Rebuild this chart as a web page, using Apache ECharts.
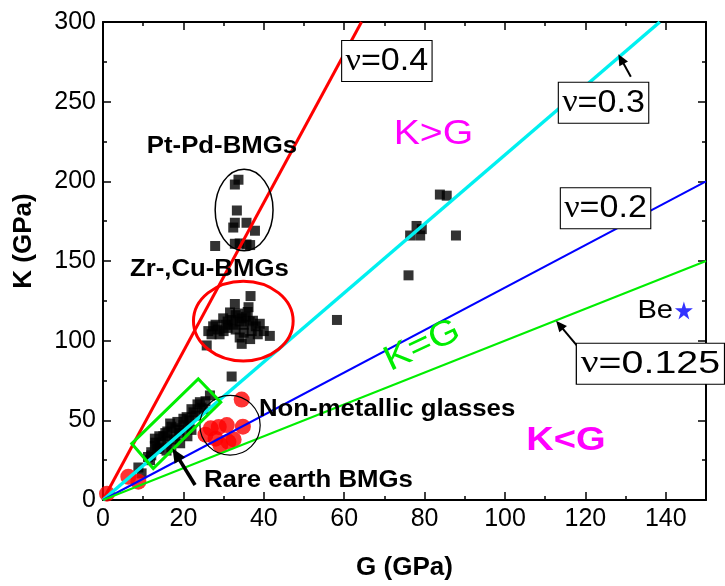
<!DOCTYPE html>
<html><head><meta charset="utf-8">
<script src="https://cdn.jsdelivr.net/npm/echarts@6/dist/echarts.min.js"></script>
<style>html,body{margin:0;padding:0;background:#fff}#c{width:725px;height:586px}</style>
</head><body><div id="c"></div>
<script>
// ---- data (G, K) in GPa ----
const ptPdBMGs = [[33.7,201],[32.8,198],[33.3,181.7],[32.8,174],[32.4,171],[35.7,174],[37.8,169],[32.8,160.8],[35.7,160.4],[36.6,160],[27.9,159.4],[34,161]];
const zrCuBMGs = [[36.7,128],[32.8,123],[36.2,121],[26.2,106],[27.4,109],[28.5,107],[29.9,114],[30.5,110],[31,108],[31.6,117.7],[32,113],[32.5,110],[33,116],[33.6,117],[34,112],[34.5,114],[35,110],[35.5,115],[36,118],[36.5,112],[37.3,112.5],[38,109],[39,110.6],[40,106],[41.5,103],[34,102],[34.5,98],[36.6,101],[25.8,97],[29,104],[30,106],[27,104],[28,110],[33,107],[35,105],[37,106],[38.5,104],[31,112],[32,77.5]];
const rareEarthBMGs = [[8.8,20.4],[9.6,16.7],[11.2,27],[11.7,25],[12,30],[12.9,34],[12.9,38.5],[13.5,32],[14.5,36],[15,40],[15.8,31],[16,43],[16.7,48],[17.5,38],[18,45],[19,42],[19.2,35.6],[20,47],[20.8,52],[21.5,50],[22,44],[22.5,55],[23,53],[24.1,61.4],[24.5,58],[25.5,62],[26.6,65.6],[25,57],[21,40],[17,33],
  [12,28],[13,36],[14,40],[14,33],[15.5,42],[16,37],[17,46],[18.5,49],[19,44],[20,51],[22,57],[23.5,60],[21,46],[18,40]];
const otherBMGs = [[83.8,191.7],[85.5,191],[78,172],[79.3,170],[76.4,166],[78.9,166],[87.8,166],[76,141],[58.2,113]];
const nonMetallicGlasses = [[1,4],[6.3,14.6],[8.8,11.5],[25.5,41],[28,38.5],[26.8,45],[28.8,45.8],[30.8,47],[31.2,36.5],[29.2,34.5],[34.8,46],[34.5,63],[32.5,38]];
const beryllium = [[144.5,119]];
// Poisson-ratio reference lines K/G (endpoints)
const nuLabels = ['0.4','0.3','0.2','0.125'];
const nuLines = [
  [[0,0],[64.3,300]],
  [[0,0],[138.5,300]],
  [[0,0],[150,200]],
  [[0,0],[150,150]]
];
const xTicks = [0,20,40,60,80,100,120,140];
const yTicks = [0,50,100,150,200,250,300];

const lineColors = ['#ff0000','#00f0f0','#0000ff','#00ee00'];
const lineWidths = [3,3.5,2,2];
const FONT = '"Liberation Sans", Arial, sans-serif';

const chart = echarts.init(document.getElementById('c'), null, {renderer:'canvas'});

function axisCommon(){
  return {
    type:'value',
    axisLine:{show:true,onZero:false,lineStyle:{color:'#000',width:2}},
    axisTick:{show:true,inside:true,length:8,lineStyle:{color:'#000',width:1.5}},
    minorTick:{show:true,splitNumber:2,length:4,lineStyle:{color:'#000',width:1.5}},
    splitLine:{show:false}
  };
}
const xMain = Object.assign(axisCommon(), {
  min:xTicks[0], max:150, interval:20, position:'bottom',
  axisLabel:{fontSize:25,color:'#000',fontFamily:FONT,margin:7,showMaxLabel:false,
    formatter:v=>xTicks.includes(v)?String(v):''},
  name:'G (GPa)', nameLocation:'middle', nameGap:55,
  nameTextStyle:{fontSize:26,fontWeight:'bold',color:'#000',fontFamily:FONT}
});
const xTop = Object.assign(axisCommon(), {min:0,max:150,interval:20,position:'top',axisLabel:{show:false}});
const yMain = Object.assign(axisCommon(), {
  min:yTicks[0], max:300, interval:50, position:'left',
  axisLabel:{fontSize:25,color:'#000',fontFamily:FONT,margin:7,
    formatter:v=>yTicks.includes(v)?String(v):''},
  name:'K (GPa)', nameLocation:'middle', nameGap:66,
  nameTextStyle:{fontSize:26,fontWeight:'bold',color:'#000',fontFamily:FONT,padding:[0,0,0,40]}
});
const yRight = Object.assign(axisCommon(), {min:0,max:300,interval:50,position:'right',axisLabel:{show:false}});

const series = [];
[ptPdBMGs, zrCuBMGs, rareEarthBMGs, otherBMGs].forEach((d,i)=>{
  series.push({type:'scatter',name:'bmg'+i,data:d,symbol:'rect',symbolSize:10,
    itemStyle:{color:'#000'},z:2,silent:true});
});
series.push({type:'scatter',name:'nonmetallic',data:nonMetallicGlasses,symbol:'circle',symbolSize:16,
  itemStyle:{color:'#ff0000'},z:2,silent:true});
series.push({type:'scatter',name:'Be',data:beryllium,
  symbol:'path://M50,0 L61,35 L98,35 L68,57 L79,91 L50,70 L21,91 L32,57 L2,35 L39,35 Z',
  symbolSize:18,itemStyle:{color:'#0000ff'},z:2,silent:true});
nuLines.forEach((d,i)=>{
  series.push({type:'line',name:'nu'+nuLabels[i],data:d,symbol:'none',clip:true,
    lineStyle:{color:lineColors[i],width:lineWidths[i]},z:5,silent:true});
});

chart.setOption({
  animation:false,
  grid:{left:103,right:19,top:22,bottom:86,containLabel:false},
  xAxis:[xMain,xTop],
  yAxis:[yMain,yRight],
  series
});

// ---- annotations (positions in data space, converted to pixels) ----
const P = (g,k)=>chart.convertToPixel({gridIndex:0},[g,k]);
const SX = 1.12;
const gr = [];
function txt(g,k,text,font,fill,align){
  const p=P(g,k);
  gr.push({type:'text',x:p[0],y:p[1],scaleX:SX,z:20,
    style:{text,font,fill,align:align||'left',verticalAlign:'middle'}});
}
function nuBox(g,k,val,sx){
  const p=P(g,k);
  gr.push({type:'text',x:p[0],y:p[1],scaleX:sx,z:20,
    style:{text:'{s|ν}{n|='+val+'}',align:'left',verticalAlign:'top',
      backgroundColor:'#fff',borderColor:'#000',borderWidth:1,padding:[5,3,4,3],
      rich:{s:{font:'31px "Liberation Serif", serif',fill:'#000'},
            n:{font:'31px '+FONT,fill:'#000'}}}});
}
function ellipse(g,k,rg,rk,color,w){
  const c=P(g,k), e=P(g+rg,k+rk);
  gr.push({type:'ellipse',z:15,shape:{cx:c[0],cy:c[1],rx:Math.abs(e[0]-c[0]),ry:Math.abs(e[1]-c[1])},
    style:{fill:'none',stroke:color,lineWidth:w}});
}
function arrow(g1,k1,g2,k2,w,head){
  const a=P(g1,k1), b=P(g2,k2);
  const dx=b[0]-a[0], dy=b[1]-a[1], L=Math.hypot(dx,dy), ux=dx/L, uy=dy/L;
  const hl=head, hw=head*0.45;
  const bx=b[0]-ux*hl, by=b[1]-uy*hl;
  gr.push({type:'line',z:18,shape:{x1:a[0],y1:a[1],x2:bx+ux*2,y2:by+uy*2},style:{stroke:'#000',lineWidth:w}});
  gr.push({type:'polygon',z:18,shape:{points:[[b[0],b[1]],[bx-uy*hw,by+ux*hw],[bx+uy*hw,by-ux*hw]]},style:{fill:'#000'}});
}

// group outlines
ellipse(35.1,182,7.2,25.6,'#000',1.5);
ellipse(34.9,112.3,12.4,25,'#ff0000',3);
ellipse(31.6,46.9,7.5,18.75,'#000',1.2);
gr.push({type:'polygon',z:15,shape:{points:[P(7.14,35.4),P(23.7,76),P(29.3,61.4),P(12.5,19.8)]},
  style:{fill:'none',stroke:'#00ee00',lineWidth:3}});

// arrows
arrow(22.9,9.4,17.3,32.3,3.5,14);
arrow(131.3,265.6,128.2,279.8,2,11);
arrow(120.4,89.4,112.7,112.5,2,11);

// poisson ratio boxes
nuBox(59.5,288,nuLabels[0],1.1);
nuBox(113.4,261.9,nuLabels[1],1.1);
nuBox(113.9,195.6,nuLabels[2],1.1);
nuBox(117.9,98.1,nuLabels[3],1.27);

// labels
const BOLD='bold 23px '+FONT;
txt(10.9,221.9,'Pt-Pd-BMGs',BOLD,'#000');
txt(6.7,144.4,'Zr-,Cu-BMGs',BOLD,'#000');
txt(38.8,56.9,'Non-metallic glasses',BOLD,'#000');
txt(25.1,11.9,'Rare earth BMGs',BOLD,'#000');
txt(72.3,229.4,'K>G','35px '+FONT,'#ff00ff');
txt(105.3,37.5,'K<G','bold 34px '+FONT,'#ff00ff');
txt(141.8,118.75,'Be','26px '+FONT,'#000','right');
// K=G rotated along the lines
(function(){
  const p=P(79.4,96.9);
  gr.push({type:'text',x:p[0],y:p[1],rotation:25*Math.PI/180,scaleX:SX,z:20,
    style:{text:'K=G',font:'35px '+FONT,fill:'#00ee00',align:'center',verticalAlign:'middle'}});
})();

chart.setOption({graphic:gr});
</script>
</body></html>
